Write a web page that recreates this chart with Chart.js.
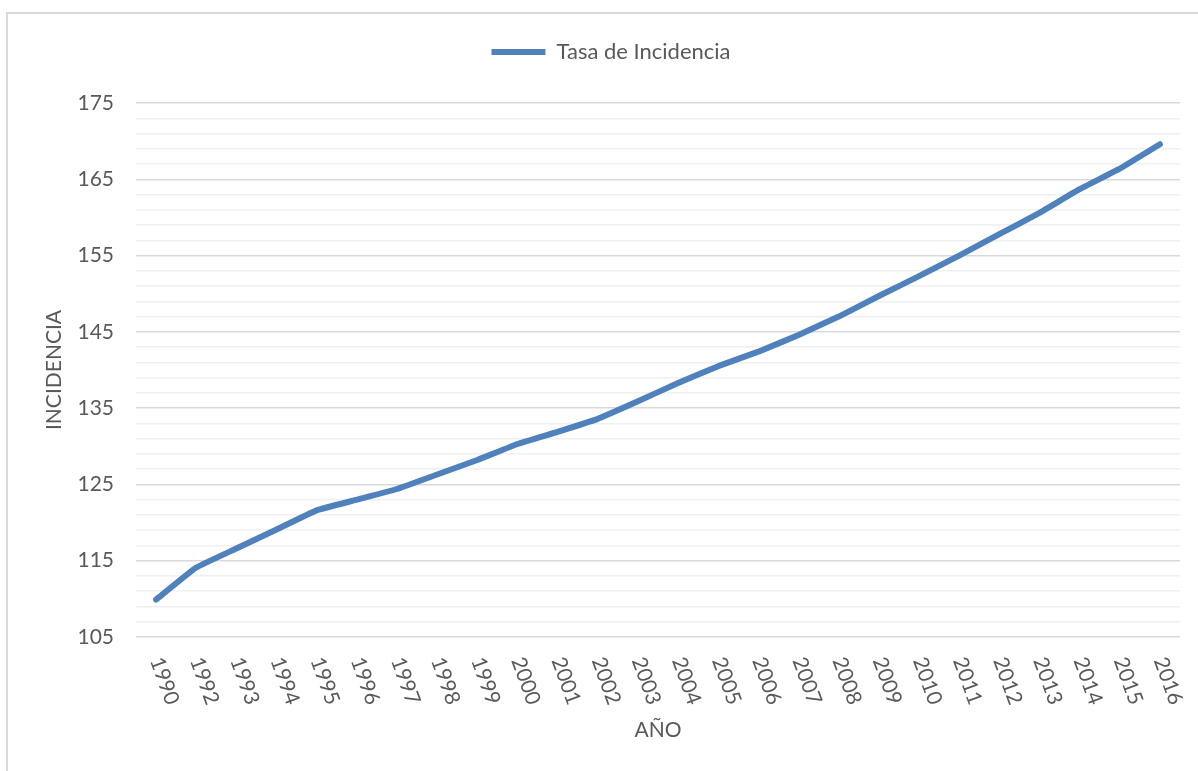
<!DOCTYPE html>
<html>
<head>
<meta charset="utf-8">
<script src="https://cdn.jsdelivr.net/npm/chart.js@4/dist/chart.umd.min.js"></script>
<style>
  html, body { margin: 0; padding: 0; background: #ffffff; }
  #wrap { position: relative; width: 1198px; height: 771px; }
</style>
</head>
<body>
<div id="wrap"><canvas id="c" width="1198" height="771"></canvas></div>
<script>
const years = ['1990','1992','1993','1994','1995','1996','1997','1998','1999','2000','2001','2002','2003','2004','2005','2006','2007','2008','2009','2010','2011','2012','2013','2014','2015','2016'];
const incidencia = [109.9,114.1,116.6,119.1,121.6,123.0,124.4,126.3,128.2,130.3,131.9,133.6,135.9,138.3,140.5,142.4,144.6,147.0,149.7,152.3,155.0,157.8,160.6,163.7,166.4,169.6];
const seriesName = 'Tasa de Incidencia';
const yTitle = 'INCIDENCIA';
const xTitle = 'AÑO';
const yMin = 105, yMax = 175, yMajor = 10, yMinor = 2;

const TEXT = '#595959';
const FONT = 'Lato, "Open Sans", sans-serif';
const FS = 21;

const frame = {
  id: 'frame',
  beforeDraw(chart) {
    const ctx = chart.ctx;
    ctx.save();
    ctx.strokeStyle = '#d9d9d9';
    ctx.lineWidth = 2;
    ctx.strokeRect(7, 13, 1400, 1000);
    ctx.restore();
  }
};

const legendSpace = {
  id: 'legendSpace',
  beforeLayout(chart) {
    const lg = chart.legend;
    if (lg && !lg._patched) {
      const orig = lg.fit;
      lg.fit = function () { orig.call(this); this.height = 103 - 29; };
      lg._patched = true;
    }
  },
  afterLayout(chart) {
    const lg = chart.legend;
    if (lg) { lg.left = 42; }
  }
};

const rotatedXLabels = {
  id: 'rotatedXLabels',
  afterDraw(chart) {
    const xs = chart.scales.x;
    const ctx = chart.ctx;
    ctx.save();
    ctx.fillStyle = TEXT;
    ctx.font = FS + 'px ' + FONT;
    ctx.textAlign = 'left';
    ctx.textBaseline = 'middle';
    const y0 = chart.chartArea.bottom + 21;
    years.forEach((lab, i) => {
      const x = xs.getPixelForValue(i);
      ctx.save();
      ctx.translate(x, y0);
      ctx.rotate(70 * Math.PI / 180);
      ctx.fillText(lab, 0, 0);
      ctx.restore();
    });
    ctx.restore();
  }
};

new Chart(document.getElementById('c'), {
  type: 'line',
  data: {
    labels: years,
    datasets: [{
      label: seriesName,
      data: incidencia,
      borderColor: '#4f81bd',
      backgroundColor: '#4f81bd',
      borderWidth: 6,
      borderCapStyle: 'round',
      borderJoinStyle: 'round',
      pointRadius: 0,
      pointHoverRadius: 0,
      pointStyle: 'line',
      tension: 0.1,
      fill: false
    }]
  },
  options: {
    responsive: false,
    animation: false,
    events: [],
    layout: { padding: { left: 0, right: 18, top: 29, bottom: 0 } },
    plugins: {
      legend: {
        display: true,
        position: 'top',
        labels: {
          usePointStyle: true,
          pointStyleWidth: 54,
          color: TEXT,
          font: { family: FONT, size: 22 },
          padding: 12
        }
      },
      tooltip: { enabled: false }
    },
    scales: {
      x: {
        type: 'category',
        offset: true,
        grid: { display: false },
        border: { display: false },
        ticks: { display: false },
        title: {
          display: true,
          text: xTitle,
          color: TEXT,
          font: { family: FONT, size: FS },
          padding: { top: 0, bottom: 28 }
        },
        afterFit(scale) { scale.height = 134; }
      },
      y: {
        min: yMin,
        max: yMax,
        border: { display: false },
        grid: {
          drawTicks: false,
          color: ctx => ((ctx.tick && (ctx.tick.value - yMin) % yMajor === 0) ? '#d9d9d9' : '#f0f0f0'),
          lineWidth: 1.5
        },
        ticks: {
          stepSize: yMinor,
          maxTicksLimit: 100,
          autoSkip: false,
          padding: 22,
          color: TEXT,
          font: { family: FONT, size: FS },
          callback: v => ((v - yMin) % yMajor === 0 ? String(v) : '')
        },
        title: {
          display: true,
          text: yTitle,
          color: TEXT,
          font: { family: FONT, size: FS },
          padding: { top: 42, bottom: 0 }
        },
        afterFit(scale) { scale.width = 136; }
      }
    }
  },
  plugins: [frame, legendSpace, rotatedXLabels]
});
</script>
</body>
</html>
